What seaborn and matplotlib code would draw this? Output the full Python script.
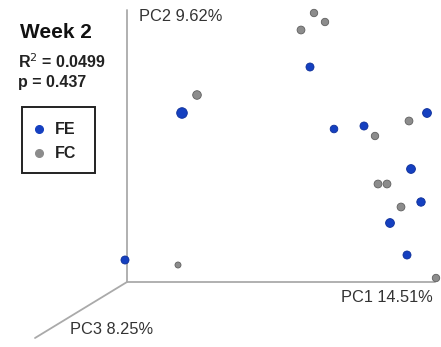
import matplotlib
matplotlib.use("Agg")
import matplotlib.pyplot as plt
import seaborn as sns
import pandas as pd
from matplotlib.patches import Rectangle

sns.set_theme(style="white")
plt.rcParams['font.family'] = ['Liberation Sans', 'DejaVu Sans']

# projected (screen) positions of samples in the 3D PCoA view
fe_x = [182, 310, 334, 364, 427, 411, 421, 390, 407, 125]
fe_y = [113, 67, 129, 126, 113, 169, 202, 223, 255, 260]
fe_r = [5.3, 4.0, 3.8, 4.0, 4.4, 4.4, 4.2, 4.4, 4.0, 4.0]
fc_x = [197, 301, 314, 325, 375, 409, 378, 387, 401, 178, 436]
fc_y = [95, 30, 13, 22, 136, 121, 184, 184, 207, 265, 278]
fc_r = [4.3, 3.9, 3.7, 3.7, 3.7, 3.9, 3.9, 3.9, 3.9, 3.0, 3.7]

groups = ["FE", "FC"]
colors = {"FE": "#1540c0", "FC": "#8c8c8c"}
edges = {"FE": "#0d2f99", "FC": "#5f5f5f"}

axis_labels = ["PC1 14.51%", "PC2 9.62%", "PC3 8.25%"]
title = "Week 2"
stats = ["R$^2$ = 0.0499", "p = 0.437"]

fe = pd.DataFrame({"x": fe_x, "y": fe_y, "r": fe_r, "group": "FE"})
fc = pd.DataFrame({"x": fc_x, "y": fc_y, "r": fc_r, "group": "FC"})

fig = plt.figure(figsize=(4.41, 3.47), dpi=100)
ax = fig.add_axes([0, 0, 1, 1])
ax.set_xlim(0, 441)
ax.set_ylim(347, 0)
ax.axis("off")

# 3D axes
axc = "#aaaaaa"
ax.plot([127, 127], [10, 282], color=axc, lw=1.3, zorder=1)
ax.plot([127, 435], [282, 282], color=axc, lw=1.3, zorder=1)
ax.plot([127, 35], [282, 338], color=axc, lw=1.3, zorder=1)

lab_kw = dict(fontsize=11.8, color="#333333", va="center")
ax.text(139, 16, axis_labels[1], ha="left", **lab_kw)
ax.text(433, 298, axis_labels[0], ha="right", **lab_kw)
ax.text(70, 330, axis_labels[2], ha="left", **lab_kw)

for df in (fc, fe):
    g = df["group"].iloc[0]
    sns.scatterplot(data=df, x="x", y="y", s=(df["r"] * 2 * 0.72) ** 2,
                    color=colors[g], edgecolor=edges[g], linewidth=0.6,
                    ax=ax, legend=False, zorder=3)

ax.text(20, 32, title, fontsize=15, fontweight="bold", color="#111111", va="center", ha="left")
ax.text(18, 62, stats[0], fontsize=11.5, fontweight="bold", color="#222222", va="center", ha="left")
ax.text(18, 82, stats[1], fontsize=11.5, fontweight="bold", color="#222222", va="center", ha="left")

# legend box
ax.add_patch(Rectangle((22, 107), 73, 66, fill=False, edgecolor="#222222", lw=1.4, zorder=2))
for i, g in enumerate(groups):
    yy = 129 + 24 * i
    ax.plot([39], [yy], marker="o", ls="", markersize=5.5, markerfacecolor=colors[g],
            markeredgecolor=colors[g], zorder=3)
    ax.text(55, yy, g, fontsize=11.5, fontweight="bold", color="#222222", va="center", ha="left")

fig.savefig("out.png", dpi=100)
